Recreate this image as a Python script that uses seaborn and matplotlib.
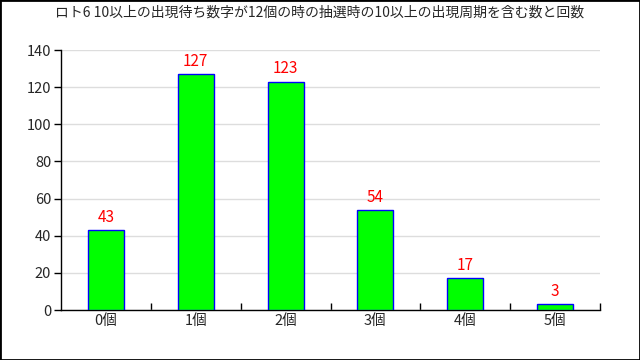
import matplotlib
matplotlib.use("Agg")
import matplotlib.pyplot as plt
import seaborn as sns
import pandas as pd
from matplotlib.patches import Rectangle

title = "ロト6 10以上の出現待ち数字が12個の時の抽選時の10以上の出現周期を含む数と回数"
categories = ["0個", "1個", "2個", "3個", "4個", "5個"]
counts = [43, 127, 123, 54, 17, 3]
yticks = [0, 20, 40, 60, 80, 100, 120, 140]

sns.set_style("white")
plt.rcParams["font.family"] = ["Noto Sans CJK JP", "DejaVu Sans"]

df = pd.DataFrame({"cat": categories, "n": counts})

fig = plt.figure(figsize=(6.4, 3.6), dpi=100)
ax = fig.add_axes([61 / 640, 1 - 310 / 360, 539 / 640, 260 / 360])

sns.barplot(data=df, x="cat", y="n", ax=ax, color="#00ff00", saturation=1,
            width=0.4, edgecolor="#0000ff", linewidth=1, zorder=3)

for i, v in enumerate(counts):
    ax.annotate(str(v), (i, v), xytext=(0, 3), textcoords="offset points",
                ha="center", va="bottom", color="red", fontsize=11)

ax.set_xlim(-0.5, 5.5)
ax.set_ylim(0, 140)
ax.set_yticks(yticks)
ax.yaxis.grid(True, color="#dddddd", linewidth=1, zorder=0)
ax.set_axisbelow(True)
ax.set_xlabel("")
ax.set_ylabel("")
fig.text(0.5, 1 - 13 / 360, title, ha="center", va="center", fontsize=10)

for s in ["top", "right"]:
    ax.spines[s].set_visible(False)
for s in ["left", "bottom"]:
    ax.spines[s].set_color("black")
    ax.spines[s].set_linewidth(1)

ax.tick_params(axis="y", length=5, width=1, direction="out", labelsize=10.5, pad=2, color="black", left=True)
ax.tick_params(axis="x", which="major", length=0, labelsize=10.5, pad=3)
ax.set_xticks([0.5, 1.5, 2.5, 3.5, 4.5, 5.5], minor=True)
ax.tick_params(axis="x", which="minor", length=5, width=1, direction="in", color="black", bottom=True)

fig.patches.append(Rectangle((0, 0), 1, 1, transform=fig.transFigure,
                             fill=False, edgecolor="black", linewidth=2))

fig.savefig("out.png", dpi=100)
